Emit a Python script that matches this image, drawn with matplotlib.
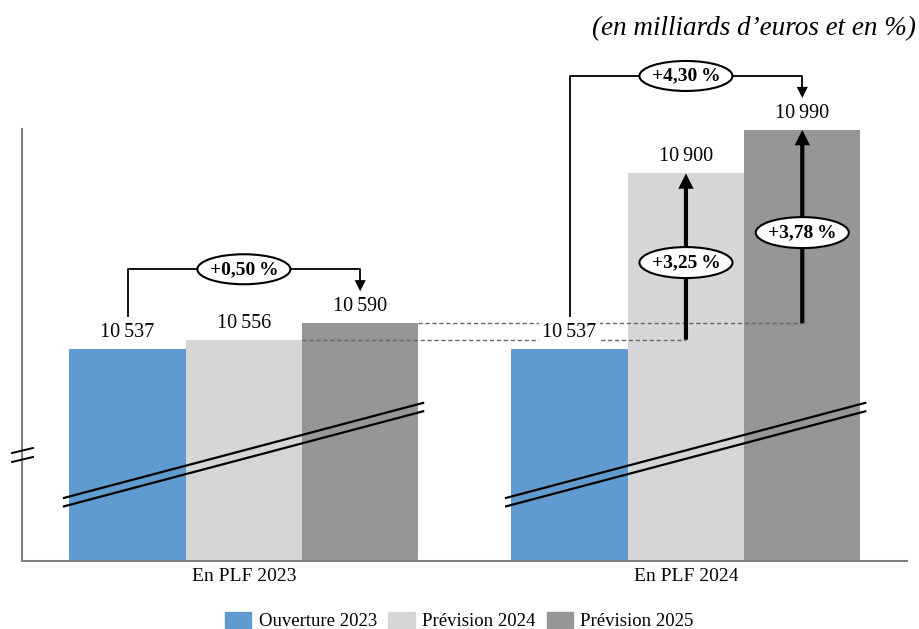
import matplotlib
matplotlib.use('Agg')
import matplotlib.pyplot as plt
from matplotlib.patches import Ellipse, Patch

plt.rcParams['font.family'] = ['Liberation Serif', 'DejaVu Serif']

# Données (en milliards d'euros)
groupes = ['En PLF 2023', 'En PLF 2024']
series = ['Ouverture 2023', 'Prévision 2024', 'Prévision 2025']
plf2023 = [10537, 10556, 10590]
plf2024 = [10537, 10900, 10990]
evol_totale = ['+0,50\u2009%', '+4,30\u2009%']
evol_plf2024 = ['+3,25\u2009%', '+3,78\u2009%']

couleurs = ['#5f9bd0', '#d5d6d8', '#969696']

def fmt(v):
    return f"{v:,}".replace(',', '\u2009')

fig = plt.figure(figsize=(9.19, 6.29), dpi=100)
ax = fig.add_axes([22 / 919, 68 / 629, 885 / 919, 432 / 629])
ax.set_xlim(-0.907, 6.70)
ax.set_ylim(10098, 10992)

# pixels -> unités de données (vertical)
ppu = 432 / (10992 - 10098)
def px(n):
    return n / ppu

pos = [[0, 1, 2], [3.8, 4.8, 5.8]]
donnees = [plf2023, plf2024]

for g in range(2):
    for i in range(3):
        ax.bar(pos[g][i], donnees[g][i], width=1.0, color=couleurs[i], zorder=2)

# étiquettes des valeurs
for g in range(2):
    for i in range(3):
        bbox = None
        if g == 1 and i == 0:
            bbox = dict(boxstyle='square,pad=0.15', fc='white', ec='none')
        ax.annotate(fmt(donnees[g][i]), xy=(pos[g][i], donnees[g][i]), xytext=(0, 12),
                    textcoords='offset points', ha='center', va='center', fontsize=14.5,
                    bbox=bbox, zorder=6, annotation_clip=False)

# lignes pointillées de rappel du PLF 2023
ax.plot([1.5, pos[1][1]], [plf2023[1], plf2023[1]], ls=(0, (3, 2)), color='#666666', lw=1, zorder=3)
ax.plot([2.5, pos[1][2]], [plf2023[2], plf2023[2]], ls=(0, (3, 2)), color='#666666', lw=1, zorder=3)

# flèches verticales épaisses (PLF 2024 vs PLF 2023)
for k in range(2):
    x = pos[1][k + 1]
    y0 = plf2023[k + 1]
    y1 = plf2024[k + 1]
    ax.annotate('', xy=(x, y1), xytext=(x, y0),
                arrowprops=dict(width=3, headwidth=11, headlength=11, fc='black', lw=0, shrink=0),
                zorder=4, annotation_clip=False)
    e = Ellipse((x, (y0 + y1) / 2 - px(6)), 0.8, px(31), fc='white', ec='black', lw=1.5, zorder=5)
    ax.add_patch(e)
    ax.text(x, (y0 + y1) / 2 - px(6), evol_plf2024[k], ha='center', va='center',
            fontsize=14, fontweight='bold', zorder=6)

# crochets d'évolution totale
for g in range(2):
    x0, x1 = pos[g][0], pos[g][2]
    depart = donnees[g][0] + px(32)
    pointe = donnees[g][2] + px(32)
    haut = pointe + px(22)
    ax.plot([x0, x0, x1, x1], [depart, haut, haut, pointe + px(9)], color='black', lw=1.3,
            zorder=4, solid_capstyle='butt', clip_on=False)
    ax.annotate('', xy=(x1, pointe), xytext=(x1, pointe + px(10)),
                arrowprops=dict(width=1, headwidth=8, headlength=8, fc='black', lw=0, shrink=0),
                zorder=4, annotation_clip=False)
    xc = pos[g][1]
    ax.add_patch(Ellipse((xc, haut), 0.8, px(30), fc='white', ec='black', lw=1.5, zorder=5,
                         clip_on=False))
    ax.text(xc, haut, evol_totale[g], ha='center', va='center', fontsize=14,
            fontweight='bold', zorder=6, clip_on=False)

# traits de rupture sur les barres
y_bas, y_haut = ax.get_ylim()
h = y_haut - y_bas
for g in range(2):
    xa = pos[g][0] - 0.546
    xb = pos[g][2] + 0.541
    for d in [0, 0.0195]:
        ax.plot([xa, xb], [y_bas + h * (0.146 - d), y_bas + h * (0.366 - d)],
                color='black', lw=1.6, zorder=4)

# rupture de l'axe vertical
for d in [0, 0.0208]:
    ax.plot([-0.0113, 0.0124], [0.25 - d, 0.2616 - d], transform=ax.transAxes,
            color='black', lw=1.4, clip_on=False, zorder=5)

for s in ['top', 'right']:
    ax.spines[s].set_visible(False)
for s in ['left', 'bottom']:
    ax.spines[s].set_color('#808080')
    ax.spines[s].set_linewidth(1.5)
ax.set_yticks([])
ax.set_xticks([pos[0][1], pos[1][1]])
ax.set_xticklabels(groupes, fontsize=14)
ax.tick_params(axis='x', length=0, pad=5)

fig.text(916 / 919, 1 - 29 / 629, '(en milliards d\u2019euros et en %)', ha='right', va='center',
         style='italic', fontsize=19.5)

handles = [Patch(color=c) for c in couleurs]
fig.legend(handles, series, loc='center', bbox_to_anchor=(0.5, 0.0127), ncol=3, frameon=False,
           fontsize=13.5, handlelength=1.4, handleheight=0.95, handletextpad=0.4,
           columnspacing=0.6)

fig.savefig('out.png', dpi=100)
